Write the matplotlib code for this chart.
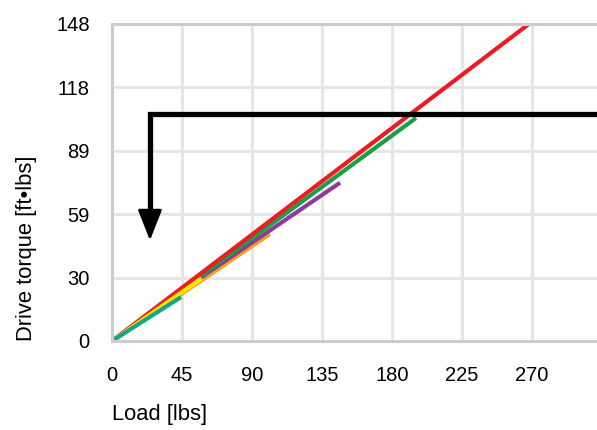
import numpy as np
import matplotlib.pyplot as plt

plt.rcParams['font.family'] = ['Liberation Sans', 'DejaVu Sans']

# series: (load end points, torque end points)
teal_x, teal_y = [0, 44.4], [0, 20.5]
yellow_x, yellow_y = [0, 57.6], [0, 29.2]
orange_x, orange_y = [0, 101.6], [0, 50.0]
purple_x, purple_y = [56.6, 146.6], [29.4, 73.9]
green_x, green_y = [0, 195.4], [0, 104.1]
red_x, red_y = [0, 268.0], [0, 148.0]

# operating-point arrow
arrow_x = [311.8, 24.4, 24.4]
arrow_y = [106.0, 106.0, 62.0]
arrow_tip = (24.4, 47.0)

xticks = [0, 45, 90, 135, 180, 225, 270]
yticks = np.linspace(0, 148, 6)
ytick_labels = ['0', '30', '59', '89', '118', '148']

fig = plt.figure(figsize=(5.97, 4.30), dpi=100)
ax = fig.add_axes([112/597, 89/430, 485/597, 317/430])

ax.plot(orange_x, orange_y, color='#f7a21b', lw=3, solid_capstyle='butt')
ax.plot(purple_x, purple_y, color='#8e3a9f', lw=3, solid_capstyle='butt')
ax.plot(green_x, green_y, color='#1a9e48', lw=3, solid_capstyle='butt')
ax.plot(red_x, red_y, color='#ec1c24', lw=3, solid_capstyle='butt')
ax.plot(yellow_x, yellow_y, color='#ffe600', lw=3, solid_capstyle='butt')
ax.plot(teal_x, teal_y, color='#14a58c', lw=3, solid_capstyle='butt')

ax.plot(arrow_x, arrow_y, color='black', lw=3.8, solid_joinstyle='miter', clip_on=False)
ax.annotate('', xy=arrow_tip, xytext=(arrow_tip[0], 64),
            arrowprops=dict(arrowstyle='-|>,head_length=1.9,head_width=0.75',
                            color='black', lw=2, shrinkA=0, shrinkB=0))

ax.set_xlim(0, 311.8)
ax.set_ylim(0, 148)
ax.set_xticks(xticks)
ax.set_yticks(yticks)
ax.set_yticklabels(ytick_labels)
ax.tick_params(length=0, labelsize=14.5, pad=16)
ax.tick_params(axis='x', pad=18)
ax.grid(color='#e6e6e8', lw=2.2)
ax.set_axisbelow(True)
for s in ['left', 'top', 'bottom']:
    ax.spines[s].set_color('#cccccc')
    ax.spines[s].set_linewidth(2.2)
ax.spines['right'].set_visible(False)

ax.set_xlabel('Load [lbs]', loc='left', fontsize=15.8, labelpad=14)
ax.set_ylabel('Drive torque [ft•lbs]', loc='bottom', fontsize=15.8, labelpad=14)

fig.savefig('out.png', dpi=100)
